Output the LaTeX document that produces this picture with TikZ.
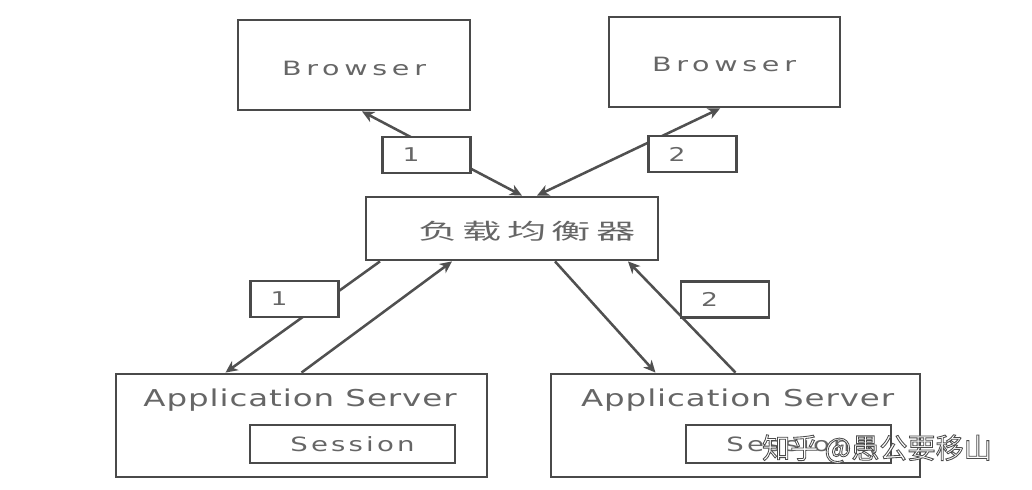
\documentclass[tikz,border=0pt]{standalone}
\usepackage{fontspec}
\usepackage{tikz}
\usetikzlibrary{arrows.meta,calc}
\newfontfamily\browserfont[FakeStretch=1.45,LetterSpace=24]{DejaVu Sans}
\newfontfamily\serverfont[FakeStretch=1.4,LetterSpace=4]{DejaVu Sans}
\newfontfamily\sessionfont[FakeStretch=1.4,LetterSpace=16]{DejaVu Sans}
\newfontfamily\numfont[FakeStretch=1.4]{DejaVu Sans}
\newfontfamily\lbfont[FakeStretch=1.8,LetterSpace=24]{Noto Sans CJK SC}
\newfontfamily\markfont{Noto Sans CJK SC}
\definecolor{boxgray}{HTML}{4A4A4A}
\definecolor{txtgray}{HTML}{666666}
\definecolor{linegray}{HTML}{505050}
\newcommand{\outlined}[1]{\special{pdf:literal direct 2 Tr 0.6 w 0.3 0.3 0.3 RG}#1\special{pdf:literal direct 0 Tr}}

\begin{document}
\begin{tikzpicture}[
    tier/.style={rectangle, draw=boxgray, line width=2pt, fill=white, inner sep=0pt},
    numbox/.style={rectangle, draw=boxgray, line width=1.6pt, fill=white, text width=1.2cm,
                 inner xsep=0.5cm, minimum height=0.9cm, align=left, text=txtgray,
                 font=\numfont\fontsize{13.5}{15}\selectfont},
    tip/.style={Stealth[length=3mm, width=2.8mm, inset=0.9mm]},
    arr/.style={-{Stealth[length=3mm, width=2.8mm, inset=0.9mm]}, line width=1.8pt, linegray},
    dblarr/.style={{Stealth[length=3mm, width=2.8mm, inset=0.9mm]}-{Stealth[length=3mm, width=2.8mm, inset=0.9mm]}, line width=1.8pt, linegray}
]
    \useasboundingbox (0,0) rectangle (25.8,12.25);

    \node[tier, minimum width=5.8cm, minimum height=2.25cm] (br1) at (8.85,10.625) {};
    \node[text=txtgray, font=\browserfont\fontsize{14}{16}\selectfont] (br1txt) at (8.85,10.55) {Browser};
    \node[tier, minimum width=5.775cm, minimum height=2.25cm] (br2) at (18.1125,10.7) {};
    \node[text=txtgray, font=\browserfont\fontsize{14}{16}\selectfont] (br2txt) at (18.1,10.65) {Browser};

    \node[tier, minimum width=7.3cm, minimum height=1.575cm] (lb) at (12.8,6.5375) {};
    \node[text=txtgray, font=\lbfont\fontsize{15.5}{17}\selectfont] (lbtxt) at (13.175,6.475) {负载均衡器};

    \node[tier, minimum width=9.275cm, minimum height=2.575cm] (app1) at (7.5375,1.6125) {};
    \node[text=txtgray, font=\serverfont\fontsize{16.5}{19}\selectfont] (app1txt) at (7.5,2.25) {Application Server};
    \node[tier, line width=1.7pt, minimum width=5.125cm, minimum height=0.95cm, text=txtgray,
          font=\sessionfont\fontsize{14}{16}\selectfont] (ses1) at (8.8125,1.15) {Session};

    \node[tier, minimum width=9.225cm, minimum height=2.575cm] (app2) at (18.3875,1.6125) {};
    \node[text=txtgray, font=\serverfont\fontsize{16.5}{19}\selectfont] (app2txt) at (18.44,2.25) {Application Server};
    \node[tier, line width=1.7pt, minimum width=5.125cm, minimum height=0.95cm, text=txtgray,
          font=\sessionfont\fontsize{14}{16}\selectfont] (ses2) at (19.7125,1.15) {Session};

    \draw[dblarr] ($(br1.south)+(0.2,0)$) -- ($(lb.north)+(0.25,0)$);
    \draw[dblarr] ($(lb.north)+(0.625,0)$) -- ($(br2.south)+(-0.11,0)$);
    \draw[arr] ($(lb.south)+(-3.3,0)$) -- ($(app1.north)+(-1.9,0)$);
    \draw[arr] (app1.north) -- ($(lb.south)+(-1.5,0)$);
    \draw[arr] ($(lb.south)+(1.075,0)$) -- ($(app2.north)+(-2.0,0)$);
    \draw[arr] (app2.north) -- ($(lb.south)+(2.9,0)$);

    \node[numbox] (n1top) at (10.6625,8.375) {1};
    \node[numbox] (n2top) at (17.3125,8.4) {2};
    \node[numbox] (n1bot) at (7.3625,4.775) {1};
    \node[numbox] (n2bot) at (18.125,4.7625) {2};

    \node[text=white, font=\markfont\fontsize{20}{24}\selectfont] (mark) at (21.925,1.025)
        {\outlined{知乎 @愚公要移山}};
\end{tikzpicture}
\end{document}
